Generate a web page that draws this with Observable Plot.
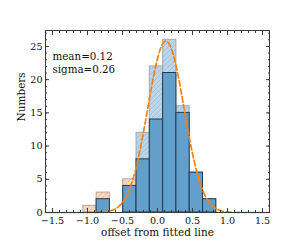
<!DOCTYPE html>
<html>
<head>
<meta charset="utf-8">
<script src="https://cdn.jsdelivr.net/npm/d3@7"></script>
<script src="https://cdn.jsdelivr.net/npm/@observablehq/plot@0.6"></script>
<style>
  html, body { margin: 0; padding: 0; background: #fff; }
</style>
</head>
<body>
<div id="chart"></div>
<script>
// ---- data ----
const binLeft  = [-1.06, -0.87, -0.68, -0.49, -0.30, -0.11, 0.08, 0.27, 0.46, 0.65];
const binRight = [-0.87, -0.68, -0.49, -0.30, -0.11, 0.08, 0.27, 0.46, 0.65, 0.84];
const totalCounts    = [1, 3, 0, 5, 12, 22, 26, 16, 6, 2];
const selectedCounts = [0, 2, 0, 4, 8, 14, 21, 15, 6, 2];
const hatchGroup = ["orange", "orange", "orange", "orange", "blue", "blue", "blue", "blue", "blue", "blue"];

const fitMean = 0.12;
const fitSigma = 0.26;
const fitAmplitude = 25.8;

const xMajor = [-1.5, -1.0, -0.5, 0.0, 0.5, 1.0, 1.5];
const xMinor = d3.range(-16, 17).map(i => i / 10);
const yMajor = [0, 5, 10, 15, 20, 25];
const yMinor = d3.range(0, 28);

const xLabel = "offset from fitted line";
const yLabel = "Numbers";
const annotation = `mean=${fitMean}\nsigma=${fitSigma}`;

// ---- tables ----
const bins = binLeft.map((x1, i) => ({
  x1, x2: binRight[i], total: totalCounts[i], selected: selectedCounts[i], group: hatchGroup[i]
}));
const curve = d3.range(-160, 161, 2).map(i => {
  const x = i / 100;
  return {x, y: fitAmplitude * Math.exp(-((x - fitMean) ** 2) / (2 * fitSigma ** 2))};
});

const fmtX = d => d.toFixed(1).replace("-", "\u2212");
const blank = () => "";
const axisColor = "#3a3a3a";

const svg = Plot.plot({
  width: 299,
  height: 250,
  marginLeft: 45,
  marginRight: 30,
  marginTop: 30,
  marginBottom: 38,
  style: {fontFamily: "'DejaVu Serif', serif", fontSize: "9.6px", background: "#fff", color: "#111"},
  x: {domain: [-1.6, 1.6]},
  y: {domain: [0, 27.4]},
  marks: [
    // hatched totals
    Plot.rect(bins.filter(d => d.total > 0), {
      x1: "x1", x2: "x2", y1: 0, y2: "total",
      fill: d => d.group === "orange" ? "url(#hatchOrange)" : "url(#hatchBlue)",
      stroke: "#9a9a9a", strokeOpacity: 0.8, strokeWidth: 1
    }),
    // solid selected
    Plot.rect(bins.filter(d => d.selected > 0), {
      x1: "x1", x2: "x2", y1: 0, y2: "selected",
      fill: "#62a0cb", stroke: "#1f3a52", strokeWidth: 1
    }),
    // gaussian fit
    Plot.line(curve, {x: "x", y: "y", stroke: "#ff7f0e", strokeWidth: 1.7, strokeDasharray: "5.5,2.6"}),
    // annotation
    Plot.text([annotation], {
      frameAnchor: "top-left", dx: 7, dy: 20, textAnchor: "start", lineAnchor: "top",
      lineHeight: 1.3, fontSize: 10.3, fill: "#111"
    }),
    // axes: major
    Plot.axisX({anchor: "bottom", ticks: xMajor, tickFormat: fmtX, tickSize: -4, tickPadding: 9, label: null, stroke: axisColor}),
    Plot.axisX({anchor: "top", ticks: xMajor, tickFormat: blank, tickSize: -4, label: null, stroke: axisColor}),
    Plot.axisY({anchor: "left", ticks: yMajor, tickFormat: d => String(d), tickSize: -4, tickPadding: 7, label: null, stroke: axisColor}),
    Plot.axisY({anchor: "right", ticks: yMajor, tickFormat: blank, tickSize: -4, label: null, stroke: axisColor}),
    // axes: minor
    Plot.axisX({anchor: "bottom", ticks: xMinor, tickFormat: blank, tickSize: -2, label: null, stroke: axisColor}),
    Plot.axisX({anchor: "top", ticks: xMinor, tickFormat: blank, tickSize: -2, label: null, stroke: axisColor}),
    Plot.axisY({anchor: "left", ticks: yMinor, tickFormat: blank, tickSize: -2, label: null, stroke: axisColor}),
    Plot.axisY({anchor: "right", ticks: yMinor, tickFormat: blank, tickSize: -2, label: null, stroke: axisColor}),
    Plot.frame({stroke: axisColor, strokeWidth: 1}),
    // axis labels
    Plot.text([xLabel], {frameAnchor: "bottom", dy: 23.5, fontSize: 10.5, fill: "#111"}),
    Plot.text([yLabel], {frameAnchor: "left", dx: -24, rotate: -90, fontSize: 10.5, fill: "#111"})
  ]
});

// hatch patterns
const defs = d3.select(svg).insert("defs", ":first-child");
function hatch(id, bg, line) {
  const p = defs.append("pattern")
    .attr("id", id).attr("patternUnits", "userSpaceOnUse")
    .attr("width", 5).attr("height", 5);
  p.append("rect").attr("width", 5).attr("height", 5).attr("fill", bg);
  p.append("path").attr("d", "M-1,1 l2,-2 M0,5 l5,-5 M4,6 l2,-2")
    .attr("stroke", line).attr("stroke-width", 0.7).attr("fill", "none");
}
hatch("hatchBlue", "#bcd6e9", "#98b8d2");
hatch("hatchOrange", "#fdd8b8", "#e9b58c");

document.getElementById("chart").appendChild(svg);
</script>
</body>
</html>
